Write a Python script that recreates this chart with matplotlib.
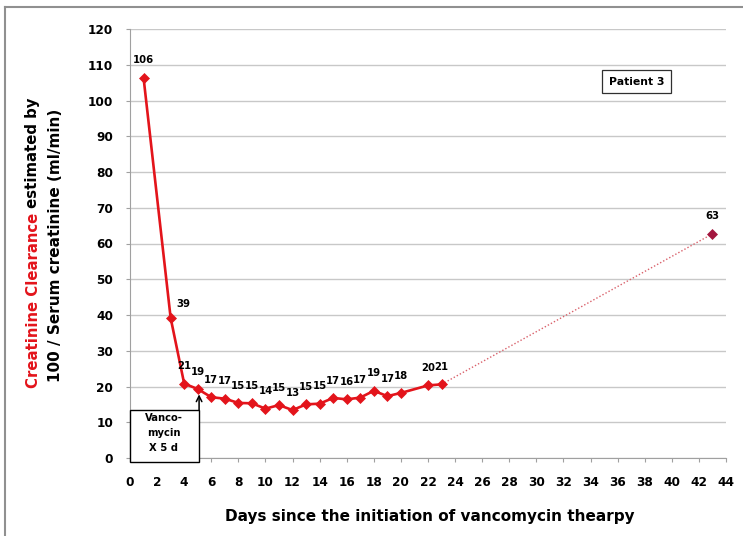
import matplotlib
matplotlib.use("Agg")
import matplotlib.pyplot as plt
from matplotlib.lines import Line2D
from matplotlib.patches import Rectangle

plt.rcParams['font.family'] = ['DejaVu Sans']

# Data
days = [1, 3, 4, 5, 6, 7, 8, 9, 10, 11, 12, 13, 14, 15, 16, 17, 18, 19, 20, 22, 23]
clearance = [106.4, 39.2, 20.8, 19.3, 17.0, 16.6, 15.4, 15.3, 13.8, 14.8, 13.4, 15.0,
             15.2, 16.8, 16.4, 16.9, 18.8, 17.3, 18.2, 20.3, 20.6]
followup_day = [43]
followup_value = [62.7]
xticks = list(range(0, 45, 2))
yticks = list(range(0, 121, 10))

RED = '#e3141b'
DARKRED = '#a3173f'
LABEL_FS = 11

fig = plt.figure(figsize=(7.43, 5.36), dpi=100)
ax = fig.add_axes([130/743, 1-458/536, (726-130)/743, (458-29)/536])

ax.set_xlim(0, 44)
ax.set_ylim(0, 120)
ax.set_yticks(yticks)
ax.set_xticks(xticks)
ax.grid(axis='y', color='#c8c8c8', linewidth=1)
ax.set_axisbelow(True)
for s in ['top', 'right']:
    ax.spines[s].set_visible(False)
for s in ['left', 'bottom']:
    ax.spines[s].set_color('#a0a0a0')
ax.tick_params(axis='both', colors='#a0a0a0', labelcolor='black', length=3,
               labelsize=8.7)
ax.tick_params(axis='y', pad=9)
ax.tick_params(axis='x', pad=10)
for lab in ax.get_xticklabels() + ax.get_yticklabels():
    lab.set_fontweight('bold')

# dotted connection to follow-up
ax.plot([days[-1], followup_day[0]], [clearance[-1], followup_value[0]],
        linestyle=(0, (1, 1.5)), color='#d9606a', linewidth=1, zorder=2)
ax.plot(days, clearance, color=RED, linewidth=1.9, marker='D', markersize=5.5,
        markerfacecolor=RED, markeredgecolor=RED, markeredgewidth=0.5, zorder=3)
ax.plot(followup_day, followup_value, linestyle='none', marker='D', markersize=5.5,
        color=DARKRED, markeredgewidth=0.5, zorder=3)

label_shift = {3: (9, 10)}
for x, y in zip(days + followup_day, clearance + followup_value):
    off = label_shift.get(x, (0, 12.5))
    ax.annotate(f"{int(round(y))}", (x, y), xytext=off, textcoords='offset points',
                ha='center', va='center', fontsize=7.3, fontweight='bold')

# Patient box
ax.text(37.4, 105.2, "Patient 3", ha='center', va='center', fontsize=7.8,
        fontweight='bold',
        bbox=dict(boxstyle='square,pad=0.6', facecolor='white', edgecolor='#303030',
                  linewidth=0.9))

# Vancomycin box
ax.add_patch(Rectangle((0, -1.1), 5.1, 14.5, facecolor='white', edgecolor='black',
                       linewidth=1, clip_on=False, zorder=4))
ax.text(2.47, 7.0, "Vanco-\nmycin\nX 5 d", ha='center', va='center', fontsize=7.2,
        fontweight='bold', linespacing=1.6, zorder=5)
ax.annotate("", xy=(5.1, 17.8), xytext=(5.1, 13.4),
            arrowprops=dict(arrowstyle='->', color='black', lw=1.1,
                            shrinkA=0, shrinkB=0), zorder=5)

# X label
fig.text(430/743, 1-517/536,
         "Days since the initiation of vancomycin thearpy",
         ha='center', va='center', fontsize=LABEL_FS, fontweight='bold')

# Y label (two lines, partly red)
fig.canvas.draw()
renderer = fig.canvas.get_renderer()
x1 = 33/743
t_red = fig.text(x1, 0, "Creatinine Clearance", color=RED, rotation=90,
                 rotation_mode='anchor', ha='left', va='center', fontsize=LABEL_FS - 0.3,
                 fontweight='bold')
t_blk = fig.text(x1, 0, " estimated by", color='black', rotation=90,
                 rotation_mode='anchor', ha='left', va='center', fontsize=LABEL_FS - 0.3,
                 fontweight='bold')
h_red = t_red.get_window_extent(renderer).height / fig.bbox.height
h_blk = t_blk.get_window_extent(renderer).height / fig.bbox.height
yc = 1 - 243/536
y_start = yc - (h_red + h_blk) / 2
t_red.set_y(y_start)
t_blk.set_y(y_start + h_red)
fig.text(55/743, 1 - 245/536, "100 / Serum creatinine (ml/min)", color='black',
         rotation=90, rotation_mode='anchor', ha='center', va='center',
         fontsize=LABEL_FS, fontweight='bold')

# Figure border (left and top)
fig.add_artist(Line2D([5/743, 5/743], [0, 1-7/536], color='#909090', lw=1.5,
                      transform=fig.transFigure))
fig.add_artist(Line2D([5/743, 1], [1-7/536, 1-7/536], color='#909090', lw=1.5,
                      transform=fig.transFigure))

fig.savefig("out.png", dpi=100)
